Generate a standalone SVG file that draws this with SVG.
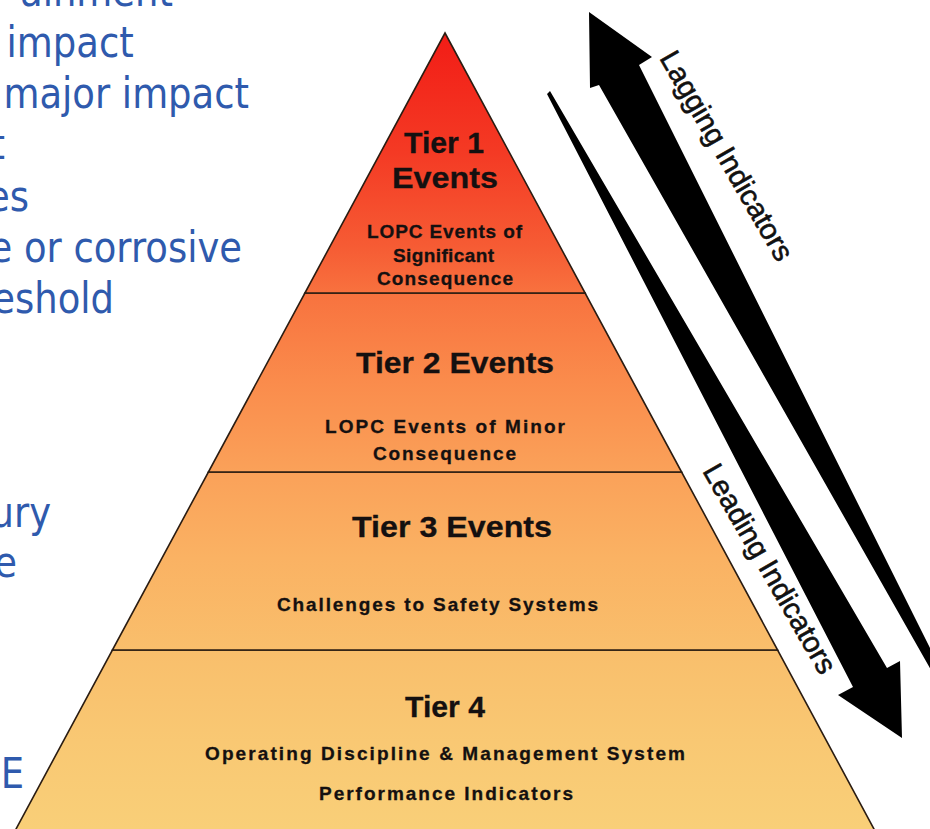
<svg xmlns="http://www.w3.org/2000/svg" width="930" height="829" viewBox="0 0 930 829">
<defs>
<linearGradient id="pyr" gradientUnits="userSpaceOnUse" x1="0" y1="33" x2="0" y2="829">
<stop offset="0" stop-color="#F21C16"/>
<stop offset="0.15" stop-color="#F43A24"/>
<stop offset="0.27" stop-color="#F65C34"/>
<stop offset="0.33" stop-color="#F8733F"/>
<stop offset="0.44" stop-color="#FA8C4C"/>
<stop offset="0.55" stop-color="#FAA159"/>
<stop offset="0.66" stop-color="#FAB263"/>
<stop offset="0.78" stop-color="#F9BF6C"/>
<stop offset="0.89" stop-color="#F9C873"/>
<stop offset="1" stop-color="#F9CF78"/>
</linearGradient>
<style>
.side{font-family:"DejaVu Sans","Noto Sans",sans-serif;font-size:42px;fill:#2F5AAD;text-anchor:end}
.tier{fill:url(#pyr);stroke:#2A1C12;stroke-width:1.6;stroke-linejoin:miter}
.t{font-family:"Liberation Sans",Arial,sans-serif;font-weight:bold;fill:#141010;text-anchor:middle;stroke:#141010;stroke-width:0.3}
.h{font-size:29px}
.s{font-size:19px}
.arrow{fill:#000}
.lbl{font-family:"Liberation Sans",Arial,sans-serif;font-size:29px;fill:#111;stroke:#111;stroke-width:0.6}
</style>
</defs>
<rect width="930" height="829" fill="#fff"/>

<g id="side-text" transform="scale(0.88,1)">
<text class="side" x="196.6" y="6">ainment</text>
<text class="side" x="152" y="57">impact</text>
<text class="side" x="283" y="108">major impact</text>
<text class="side" x="5.7" y="159">t</text>
<text class="side" x="33" y="211">es</text>
<text class="side" x="275" y="262">e or corrosive</text>
<text class="side" x="129.5" y="313">eshold</text>
<text class="side" x="58" y="527">ury</text>
<text class="side" x="19.3" y="577">e</text>
<text class="side" x="27.3" y="788">E</text>
</g>

<g id="tier4">
<polygon class="tier" points="112.4,650 777.6,650 877.2,835 12.8,835"/>
<text class="t h" x="445" y="717" textLength="80" lengthAdjust="spacingAndGlyphs">Tier 4</text>
<text class="t s" x="445" y="760" textLength="480">Operating Discipline &amp; Management System</text>
<text class="t s" x="446" y="800" textLength="254">Performance Indicators</text>
</g>
<g id="tier3">
<polygon class="tier" points="208.4,472 681.6,472 777.6,650 112.4,650"/>
<text class="t h" x="452" y="537" textLength="200" lengthAdjust="spacingAndGlyphs">Tier 3 Events</text>
<text class="t s" x="437.5" y="611" textLength="321">Challenges to Safety Systems</text>
</g>
<g id="tier2">
<polygon class="tier" points="304.9,293 585.1,293 681.6,472 208.4,472"/>
<text class="t h" x="455" y="373" textLength="198" lengthAdjust="spacingAndGlyphs">Tier 2 Events</text>
<text class="t s" x="445" y="433" textLength="240">LOPC Events of Minor</text>
<text class="t s" x="444.5" y="460" textLength="143">Consequence</text>
</g>
<g id="tier1">
<polygon class="tier" points="445,33 585.1,293 304.9,293"/>
<text class="t h" x="444" y="153" textLength="80" lengthAdjust="spacingAndGlyphs">Tier 1</text>
<text class="t h" x="445" y="188" textLength="106" lengthAdjust="spacingAndGlyphs">Events</text>
<text class="t s" x="444.5" y="238" textLength="155">LOPC Events of</text>
<text class="t s" x="443.5" y="262" textLength="101">Significant</text>
<text class="t s" x="445" y="285" textLength="136">Consequence</text>
</g>

<g id="connectors">
<polygon id="lagging-arrow" class="arrow" points="589,12 652,57 639,65 935,658 935,677 599,85 590,88"/>
<polygon id="leading-arrow" class="arrow" points="547,94 550,91 887,668 900,661 902,738 838,695 853,687"/>
</g>

<g id="labels">
<text class="lbl" transform="translate(659,58) rotate(60)">Lagging Indicators</text>
<text class="lbl" transform="translate(702,471) rotate(60)">Leading Indicators</text>
</g>
</svg>
